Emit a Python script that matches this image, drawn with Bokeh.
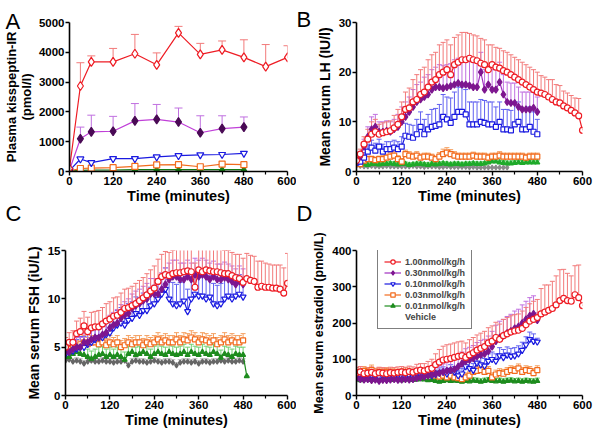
from bokeh.plotting import figure
from bokeh.models import Range1d, FixedTicker, Label, Legend, LegendItem, ColumnDataSource, GridBox
from bokeh.layouts import column, row
from bokeh.embed import file_html
from bokeh.resources import INLINE

# ---------------- data ----------------
LABELS = ["1.00nmol/kg/h", "0.30nmol/kg/h", "0.10nmol/kg/h", "0.03nmol/kg/h", "0.01nmol/kg/h", "Vehicle"]
PANEL_LETTERS = ["A", "B", "C", "D"]
X_TICKS = [0, 120, 240, 360, 480, 600]
X_MINOR = [60, 180, 300, 420, 540]

# Panel A: plasma kisspeptin-IR (pmol/l)
A_T_RED = [0, 30, 60, 120, 180, 240, 300, 360, 420, 480, 540, 600]
A_T = [0, 30, 60, 120, 180, 240, 300, 360, 420, 480]
A_RED = [100, 2870, 3680, 3680, 3950, 3580, 4650, 3930, 4080, 3830, 3520, 3830]
A_RED_ERR = [0, 780, 200, 450, 650, 400, 220, 370, 300, 590, 740, 390]
A_PURPLE = [50, 1100, 1330, 1350, 1700, 1750, 1660, 1300, 1440, 1490]
A_PURPLE_ERR = [0, 390, 560, 500, 580, 500, 470, 570, 430, 340]
A_BLUE = [30, 420, 300, 430, 430, 490, 530, 560, 570, 610]
A_ORANGE = [20, 100, 110, 130, 170, 220, 230, 160, 250, 230]
A_GREEN = [10, 40, 50, 50, 60, 60, 60, 60, 60, 60]
A_GREY = [5, 10, 10, 10, 10, 10, 10, 10, 10, 10]
A_YTICKS = [0, 1000, 2000, 3000, 4000, 5000]

# sampling times (minutes) for panels B-D
T600 = list(range(0, 601, 10))
T490 = list(range(0, 491, 10))
T480 = list(range(0, 481, 10))
T400 = list(range(0, 401, 10))

# Panel B: LH (IU/l)
B_RED = [2.2, 3.5, 5.5, 6.5, 7.5, 8.0, 7.5, 7.8, 8.0, 8.2, 8.8, 9.5, 11.0, 12.5, 12.8, 14.0, 14.5, 15.5, 16.0, 17.0,
         18.0, 18.5, 19.5, 20.0, 20.5, 19.5, 21.5, 22.0, 22.5, 22.5, 22.8, 22.5, 22.3, 21.8, 21.5, 20.5, 21.5, 21.0, 20.8, 20.3,
         20.0, 19.5, 19.0, 18.5, 18.0, 17.5, 17.0, 16.5, 16.0, 15.8, 15.5, 15.0, 14.5, 14.0, 13.8, 13.2, 12.8, 12.3, 11.8, 11.2, 8.3]
B_RED_ERR = [0.5, 1.0, 1.5, 2.0, 2.5, 2.5, 2.0, 2.0, 2.0, 2.0, 2.5, 3.0, 3.0, 3.5, 4.0, 4.5, 5.0, 5.0, 5.0, 5.5,
             5.5, 5.5, 6.0, 6.0, 6.0, 6.0, 5.5, 5.5, 5.5, 5.5, 5.0, 5.0, 5.0, 5.0, 5.0, 5.0, 4.0, 4.0, 4.0, 4.0,
             4.0, 4.0, 4.0, 4.0, 4.0, 4.0, 4.0, 4.0, 4.0, 3.5, 3.5, 3.5, 4.0, 3.5, 3.5, 3.0, 3.0, 3.0, 3.0, 3.5, 0.5]
B_PURPLE = [2.0, 3.0, 5.0, 7.0, 8.5, 9.0, 8.0, 8.0, 8.2, 8.0, 8.5, 9.0, 10.0, 11.0, 12.0, 13.0, 14.0, 14.5, 15.0, 15.5,
            16.5, 17.0, 17.0, 16.8, 17.0, 17.2, 17.5, 17.8, 17.5, 17.5, 17.3, 17.0, 17.0, 20.0, 16.5, 17.5, 16.5, 16.5, 18.0, 15.5,
            14.0, 13.8, 13.8, 13.0, 12.5, 12.5, 12.5, 12.8, 12.0]
B_PURPLE_ERR = [0.5, 1.0, 1.5, 2.0, 2.5, 2.5, 2.0, 2.0, 2.0, 2.0, 2.0, 2.5, 3.0, 3.0, 3.0, 3.5, 3.5, 3.5, 4.0, 4.0,
                4.0, 4.0, 4.5, 4.5, 4.5, 4.5, 5.0, 5.0, 5.0, 5.0, 5.0, 5.0, 5.0, 4.0, 4.0, 4.0, 4.0, 4.0, 4.0, 4.0,
                4.0, 4.0, 4.0, 4.0, 3.5, 3.5, 3.5, 3.5, 3.0]
B_BLUE = [1.8, 2.0, 2.8, 4.0, 4.8, 4.2, 5.0, 4.0, 4.5, 4.5, 4.8, 4.5, 5.0, 7.2, 7.0, 6.8, 7.5, 9.0, 7.5, 8.5,
          9.0, 9.2, 9.5, 11.0, 10.5, 9.8, 11.0, 12.0, 12.0, 11.5, 9.5, 9.5, 9.5, 10.0, 9.8, 9.5, 9.5, 9.0, 10.0, 8.5,
          8.5, 8.3, 9.5, 10.0, 8.5, 8.5, 9.0, 8.0, 7.5]
B_BLUE_ERR = [0.5, 0.8, 1.0, 1.5, 1.5, 1.5, 1.5, 1.5, 1.5, 1.5, 1.5, 1.5, 2.0, 2.5, 2.5, 2.5, 3.0, 3.0, 3.0, 3.0,
              3.5, 3.5, 4.0, 4.5, 4.5, 5.0, 5.0, 5.0, 5.0, 5.0, 4.5, 4.5, 4.5, 4.5, 4.5, 4.5, 4.5, 4.0, 4.0, 4.0,
              4.0, 4.0, 4.0, 4.0, 4.0, 4.0, 4.0, 4.0, 3.0]
B_ORANGE = [1.8, 1.5, 2.2, 2.5, 2.5, 2.3, 2.5, 2.5, 2.8, 3.0, 3.2, 2.5, 2.0, 3.5, 3.2, 3.0, 3.2, 2.8, 3.0, 3.0,
            2.8, 2.5, 3.0, 3.5, 3.8, 3.5, 3.2, 3.0, 3.0, 3.0, 3.0, 3.2, 3.0, 3.0, 3.0, 2.8, 3.0, 3.0, 3.2, 3.0,
            3.0, 3.0, 3.0, 3.0, 3.0, 2.8, 3.0, 3.0, 3.0]
B_ORANGE_ERR = [0.3, 0.4, 0.5, 0.6, 0.6, 0.6, 0.6, 0.7, 0.7, 0.8, 0.8, 0.7, 0.6, 0.8, 0.8, 0.7, 0.8, 0.7, 0.7, 0.7,
                0.7, 0.6, 0.8, 1.0, 1.0, 0.9, 0.8, 0.7, 0.7, 0.7, 0.7, 0.7, 0.7, 0.7, 0.7, 0.7, 0.7, 0.7, 0.8, 0.7,
                0.7, 0.7, 0.7, 0.7, 0.7, 0.7, 0.7, 0.7, 0.7]
B_GREEN = [1.5, 1.5, 1.4, 1.3, 1.5, 1.5, 1.4, 1.5, 1.5, 1.6, 1.5, 1.4, 1.5, 1.5, 1.3, 1.4, 1.5, 1.5, 1.4, 1.3,
           1.5, 1.4, 1.5, 1.6, 1.5, 1.4, 1.5, 1.5, 1.4, 1.5, 1.5, 1.6, 1.5, 1.5, 1.6, 1.8, 2.0, 2.0, 1.8, 1.7,
           1.6, 1.6, 1.7, 1.8, 1.7, 1.8, 1.8, 1.8, 1.8]
B_GREEN_ERR = [0.3, 0.3, 0.4, 0.4, 0.4, 0.4, 0.4, 0.4, 0.4, 0.4, 0.4, 0.4, 0.4, 0.4, 0.4, 0.4, 0.4, 0.4, 0.4, 0.4,
               0.4, 0.4, 0.4, 0.4, 0.4, 0.4, 0.4, 0.4, 0.4, 0.4, 0.4, 0.4, 0.4, 0.4, 0.4, 0.5, 0.5, 0.5, 0.5, 0.5,
               0.5, 0.5, 0.5, 0.5, 0.5, 0.5, 0.5, 0.5, 0.5]
B_GREY = [1.2, 1.1, 1.0, 1.0, 1.1, 1.0, 1.0, 1.0, 1.1, 1.0, 1.0, 1.0, 1.0, 1.0, 1.0, 1.1, 1.0, 1.0, 0.9, 1.0,
          1.0, 1.0, 0.9, 0.9, 1.0, 0.9, 0.9, 0.9, 0.9, 0.9, 0.8, 0.9, 0.8, 0.8, 0.8, 0.8, 0.8, 0.8, 0.8, 0.8, 0.8]

# Panel C: FSH (iU/L)
C_RED = [5.0, 5.5, 5.5, 6.4, 6.6, 7.2, 6.6, 7.0, 7.1, 7.1, 7.4, 7.7, 7.9, 8.2, 8.3, 8.6, 9.0, 9.1, 9.3, 9.5,
         9.8, 10.1, 10.4, 10.8, 11.1, 11.8, 12.3, 12.5, 12.4, 12.6, 12.7, 12.7, 12.8, 12.9, 12.8, 11.2, 13.0, 12.8, 13.0, 12.9,
         12.8, 12.8, 12.7, 12.6, 12.6, 12.4, 12.2, 12.1, 11.7, 12.1, 11.9, 11.8, 11.2, 11.3, 11.2, 11.2, 11.1, 11.1, 11.0, 10.6, 11.6]
C_RED_ERR = [1.0, 1.0, 1.2, 1.3, 1.4, 1.5, 1.5, 1.6, 1.6, 1.7, 1.7, 1.8, 1.8, 1.9, 1.9, 2.0, 2.0, 2.0, 2.0, 2.1,
             2.1, 2.1, 2.2, 2.2, 2.3, 2.3, 2.3, 2.4, 2.4, 2.4, 2.4, 2.4, 2.3, 2.3, 2.4, 2.5, 2.2, 2.3, 2.2, 2.3,
             2.3, 2.3, 2.4, 2.4, 2.4, 2.4, 2.4, 2.5, 2.5, 2.6, 2.6, 2.6, 2.7, 2.6, 2.5, 2.4, 2.4, 2.4, 2.5, 2.6, 3.1]
C_PURPLE = [4.5, 4.5, 4.8, 5.0, 5.0, 5.5, 5.5, 5.8, 6.0, 6.0, 6.3, 6.5, 7.0, 7.3, 7.5, 8.0, 8.3, 8.5, 9.0, 9.3,
            9.5, 9.8, 10.0, 10.5, 10.5, 10.5, 11.0, 11.5, 12.0, 12.3, 12.3, 12.0, 12.0, 12.3, 12.0, 12.5, 12.3, 12.5, 12.3, 12.0,
            12.3, 12.0, 12.0, 12.2, 12.0, 11.8, 11.5, 11.8, 11.5]
C_PURPLE_ERR = [0.8, 0.8, 0.9, 1.0, 1.0, 1.0, 1.1, 1.1, 1.2, 1.2, 1.2, 1.3, 1.3, 1.3, 1.4, 1.4, 1.4, 1.5, 1.5, 1.5,
                1.5, 1.5, 1.6, 1.6, 1.6, 1.6, 1.7, 1.7, 1.7, 1.7, 1.7, 1.7, 1.7, 1.7, 1.7, 1.7, 1.7, 1.7, 1.7, 1.7,
                1.6, 1.6, 1.6, 1.6, 1.6, 1.6, 1.6, 1.6, 1.6]
C_BLUE = [4.3, 4.5, 4.6, 4.8, 5.0, 5.0, 5.3, 5.5, 5.8, 6.0, 6.0, 6.3, 6.5, 7.0, 7.3, 7.5, 7.3, 7.8, 8.0, 8.5,
          8.3, 8.8, 8.8, 9.3, 9.5, 10.0, 10.5, 11.0, 10.0, 9.5, 9.3, 9.5, 9.8, 8.7, 10.0, 10.5, 10.3, 10.3, 10.0, 10.2,
          9.5, 9.3, 9.5, 10.0, 10.3, 10.0, 10.3, 10.5, 10.2]
C_BLUE_ERR = [0.8, 0.9, 1.0, 1.0, 1.1, 1.1, 1.2, 1.2, 1.3, 1.3, 1.4, 1.4, 1.5, 1.5, 1.5, 1.6, 1.6, 1.7, 1.7, 1.7,
              1.8, 1.8, 1.8, 1.9, 1.9, 2.0, 2.0, 2.2, 2.2, 2.2, 2.2, 2.2, 2.2, 2.3, 2.2, 2.2, 2.2, 2.2, 2.2, 2.2,
              2.1, 2.1, 2.1, 2.1, 2.0, 2.0, 2.0, 2.0, 2.0]
C_ORANGE = [4.6, 4.8, 5.0, 5.0, 5.3, 5.5, 5.3, 5.5, 5.5, 5.3, 5.5, 5.2, 5.5, 5.3, 5.5, 5.0, 5.2, 5.5, 5.3, 5.5,
            5.5, 5.2, 5.5, 5.3, 5.5, 5.8, 5.5, 5.7, 5.5, 5.5, 5.8, 5.5, 5.8, 5.7, 6.0, 5.8, 5.5, 5.8, 5.7, 5.5,
            5.7, 5.3, 5.5, 5.8, 5.5, 5.7, 5.5, 5.5, 5.7]
C_ORANGE_ERR = [0.6, 0.6, 0.6, 0.7, 0.7, 0.7, 0.7, 0.7, 0.7, 0.7, 0.7, 0.7, 0.7, 0.7, 0.7, 0.7, 0.7, 0.7, 0.7, 0.7,
                0.7, 0.7, 0.7, 0.7, 0.7, 0.7, 0.7, 0.7, 0.7, 0.7, 0.7, 0.7, 0.7, 0.7, 0.7, 0.7, 0.7, 0.7, 0.7, 0.7,
                0.7, 0.7, 0.7, 0.7, 0.7, 0.7, 0.7, 0.7, 0.7]
C_GREEN = [4.0, 4.0, 4.3, 4.5, 4.3, 4.2, 4.0, 3.8, 4.0, 4.2, 4.3, 4.0, 4.2, 4.0, 4.2, 4.0, 3.7, 4.3, 4.5, 4.2,
           4.3, 4.5, 4.3, 4.0, 4.3, 4.5, 4.3, 4.2, 4.5, 4.3, 4.2, 4.3, 4.5, 4.2, 4.5, 4.3, 4.2, 4.5, 4.3, 4.2,
           4.5, 4.3, 3.9, 4.3, 4.2, 4.0, 4.3, 4.2, 4.2, 2.0]
C_GREEN_ERR = [0.7, 0.7, 0.8, 0.8, 0.8, 0.8, 0.8, 0.8, 0.8, 0.8, 0.8, 0.8, 0.8, 0.8, 0.8, 0.8, 0.8, 0.8, 0.8, 0.8,
               0.8, 0.8, 0.8, 0.8, 0.8, 0.8, 0.8, 0.8, 0.8, 0.8, 0.8, 0.8, 0.8, 0.8, 0.8, 0.8, 0.8, 0.8, 0.8, 0.8,
               0.8, 0.8, 0.8, 0.8, 0.8, 0.8, 0.8, 0.8, 0.8, 0.0]
C_GREY = [3.6, 3.7, 3.5, 3.6, 3.5, 3.3, 3.5, 3.6, 3.5, 3.5, 3.6, 3.5, 3.5, 3.4, 3.5, 3.5, 3.6, 3.1, 3.5, 3.6,
          3.5, 3.5, 3.4, 3.5, 3.6, 3.5, 3.4, 3.5, 3.5, 3.4, 3.1, 3.4, 3.5, 3.5, 3.4, 3.5, 3.3, 3.5, 3.5, 3.4,
          3.5, 3.5, 3.6, 3.5, 3.6, 3.5, 3.5, 3.6, 3.5]
C_GREY_ERR = [0.3, 0.3, 0.3, 0.3, 0.3, 0.3, 0.3, 0.3, 0.3, 0.3, 0.3, 0.3, 0.3, 0.3, 0.3, 0.3, 0.3, 0.3, 0.3, 0.3,
              0.3, 0.3, 0.3, 0.3, 0.3, 0.3, 0.3, 0.3, 0.3, 0.3, 0.3, 0.3, 0.3, 0.3, 0.3, 0.3, 0.3, 0.3, 0.3, 0.3,
              0.3, 0.3, 0.3, 0.3, 0.3, 0.3, 0.3, 0.3, 0.3]

# Panel D: estradiol (pmol/L)
D_RED = [62, 65, 60, 62, 64, 60, 63, 62, 60, 63, 62, 64, 65, 63, 66, 64, 68, 70, 68, 72,
         75, 85, 92, 98, 100, 102, 105, 108, 110, 105, 112, 118, 125, 130, 135, 145, 150, 160, 155, 165,
         170, 175, 178, 180, 185, 195, 205, 210, 215, 225, 230, 235, 240, 250, 262, 268, 262, 260, 278, 270, 248]
D_RED_ERR = [15, 15, 15, 15, 15, 15, 15, 15, 15, 15, 15, 15, 15, 15, 15, 15, 18, 18, 20, 22,
             25, 30, 35, 38, 40, 40, 40, 40, 40, 40, 42, 42, 42, 42, 42, 42, 42, 42, 42, 45,
             45, 45, 45, 45, 48, 48, 48, 50, 50, 70, 75, 70, 75, 80, 85, 80, 75, 70, 80, 90, 0]
D_PURPLE = [48, 45, 44, 45, 42, 44, 40, 43, 42, 44, 45, 43, 44, 45, 44, 45, 48, 50, 52, 55,
            58, 60, 62, 65, 68, 70, 72, 80, 88, 95, 98, 102, 108, 112, 115, 122, 135, 150, 160, 165,
            172, 178, 185, 190, 200, 210, 220, 225, 208]
D_PURPLE_ERR = [10, 10, 10, 10, 10, 10, 10, 10, 10, 10, 10, 10, 10, 10, 10, 10, 12, 12, 14, 15,
                16, 18, 20, 22, 24, 26, 28, 30, 32, 34, 35, 36, 38, 40, 40, 42, 42, 44, 45, 45,
                46, 46, 48, 48, 50, 50, 50, 50, 20]
D_BLUE = [50, 55, 52, 50, 55, 52, 50, 53, 55, 52, 50, 55, 52, 50, 55, 52, 60, 55, 58, 60,
          55, 58, 62, 65, 60, 70, 65, 55, 60, 80, 75, 70, 90, 85, 82, 95, 100, 95, 110, 105,
          112, 108, 110, 115, 125, 140, 155, 150, 148]
D_BLUE_ERR = [10, 10, 10, 10, 10, 10, 10, 10, 10, 10, 10, 10, 10, 10, 10, 10, 12, 12, 12, 12,
              12, 12, 14, 14, 14, 15, 15, 15, 15, 18, 18, 18, 20, 20, 20, 20, 20, 20, 22, 22,
              22, 22, 22, 22, 22, 22, 20, 20, 10]
D_ORANGE = [65, 60, 68, 65, 70, 62, 65, 63, 65, 62, 64, 60, 62, 65, 63, 60, 62, 65, 60, 58,
            60, 55, 52, 55, 50, 55, 50, 48, 45, 50, 55, 65, 68, 70, 65, 68, 50, 58, 62, 60,
            65, 70, 68, 75, 65, 70, 68, 62, 70]
D_ORANGE_ERR = [12, 12, 12, 12, 14, 12, 12, 12, 12, 12, 12, 12, 12, 12, 12, 12, 12, 12, 12, 12,
                12, 12, 12, 12, 12, 12, 12, 12, 12, 12, 12, 12, 12, 12, 12, 12, 12, 12, 12, 12,
                12, 12, 12, 12, 12, 12, 12, 12, 12]
D_GREEN = [45, 42, 44, 45, 43, 44, 42, 45, 44, 43, 45, 44, 42, 44, 45, 43, 44, 45, 44, 42,
           43, 40, 38, 40, 42, 40, 41, 40, 38, 40, 39, 41, 40, 38, 40, 42, 40, 39, 40, 38,
           40, 41, 39, 40, 38, 40, 39, 38, 40]
D_GREEN_ERR = [8, 8, 8, 8, 8, 8, 8, 8, 8, 8, 8, 8, 8, 8, 8, 8, 8, 8, 8, 8,
               8, 8, 8, 8, 8, 8, 8, 8, 8, 8, 8, 8, 8, 8, 8, 8, 8, 8, 8, 8,
               8, 8, 8, 8, 8, 8, 8, 8, 8]

# ---------------- styles ----------------
RED, RED_E = "#EE1C24", "#F27A7A"
PURPLE, PURPLE_L, PURPLE_E = "#7D168F", "#A030C0", "#C070E0"
BLUE, BLUE_E = "#1A1AE0", "#6060F0"
ORANGE, ORANGE_E = "#F26B1D", "#F5A060"
GREEN, GREEN_E = "#1FAA2A", "#70D070"
GREY, GREY_E = "#8A8A8A", "#B8B8B8"
DGREY = "#666666"
FONT = "Liberation Sans"

W_L, W_R = 296, 297
H_T, H_B = 214, 221


def make_fig(w, h, l, r, t, b, ymax, yticks, ylabel, ylabel_size="14px"):
    p = figure(width=w, height=h, min_border_left=l, min_border_right=r,
               min_border_top=t, min_border_bottom=b,
               x_range=Range1d(0, 600), y_range=Range1d(0, ymax),
               output_backend="svg", toolbar_location=None)
    p.xgrid.visible = False
    p.ygrid.visible = False
    p.outline_line_color = None
    p.background_fill_color = "white"
    p.border_fill_color = "white"
    p.xaxis.ticker = FixedTicker(ticks=X_TICKS, minor_ticks=X_MINOR)
    p.yaxis.ticker = FixedTicker(ticks=yticks, minor_ticks=[])
    for ax in (p.xaxis, p.yaxis):
        ax.axis_line_width = 1.6
        ax.axis_line_color = "black"
        ax.major_tick_line_width = 1.4
        ax.minor_tick_line_width = 1.2
        ax.major_tick_in = 0
        ax.major_tick_out = 4
        ax.minor_tick_in = 0
        ax.minor_tick_out = 3
        ax.major_label_text_font = FONT
        ax.major_label_text_font_style = "bold"
        ax.major_label_text_font_size = "11.5px"
        ax.major_label_text_color = "black"
        ax.axis_label_text_font = FONT
        ax.axis_label_text_font_style = "bold"
        ax.axis_label_text_color = "black"
    p.xaxis.major_label_standoff = 1
    p.xaxis.axis_label = "Time (minutes)"
    p.xaxis.axis_label_text_font_size = "14.5px"
    p.xaxis.axis_label_standoff = 0
    p.yaxis.major_label_standoff = 1
    p.yaxis.axis_label = ylabel
    p.yaxis.axis_label_text_font_size = ylabel_size
    p.yaxis.axis_label_standoff = 3
    return p


def errbars(p, t, y, err, ecolor, cap):
    if err is None:
        return
    src = ColumnDataSource(dict(x=t, y=y, top=[a + b for a, b in zip(y, err)]))
    p.segment(x0="x", y0="y", x1="x", y1="top", source=src, line_color=ecolor, line_width=1)
    p.scatter(x="x", y="top", marker="dash", size=cap, line_color=ecolor, line_width=1, source=src)


def series(p, t, y, color, marker, fill, size, line_color=None):
    src = ColumnDataSource(dict(x=t, y=y))
    r1 = p.line(x="x", y="y", source=src, line_color=line_color or color, line_width=1.2)
    r2 = p.scatter(x="x", y="y", source=src, marker=marker, size=size,
                   line_color=color, fill_color=fill, line_width=1.2)
    return [r1, r2]


# ---------------- Panel A ----------------
pA = make_fig(W_L, H_T, 65, 9, 22, 43, 5000, A_YTICKS, "Plasma kisspeptin-IR\n(pmol/l)", "13px")
pA.yaxis.axis_label_text_line_height = 1.0
pA.yaxis.axis_label_standoff = 2
errbars(pA, A_T_RED, A_RED, A_RED_ERR, RED_E, 8)
errbars(pA, A_T, A_PURPLE, A_PURPLE_ERR, PURPLE_E, 8)
series(pA, A_T, A_GREY, GREY, "diamond", GREY, 6)
series(pA, A_T, A_GREEN, "#157A15", "triangle", "#157A15", 6)
series(pA, A_T, A_ORANGE, ORANGE, "square", "white", 6)
series(pA, A_T, A_BLUE, BLUE, "inverted_triangle", "white", 7)
series(pA, A_T, A_PURPLE, "#4A0A55", "diamond", "#4A0A55", 9, line_color="#C040D8")
series(pA, A_T_RED, A_RED, RED, "diamond", "white", 9)

# ---------------- Panel B ----------------
pB = make_fig(W_R, H_T, 60, 11, 22, 43, 30, [0, 10, 20, 30], "Mean serum LH (IU/l)")
errbars(pB, T480, B_GREEN, B_GREEN_ERR, GREEN_E, 5)
errbars(pB, T480, B_ORANGE, B_ORANGE_ERR, ORANGE_E, 5)
errbars(pB, T480, B_BLUE, B_BLUE_ERR, BLUE_E, 5)
errbars(pB, T480, B_PURPLE, B_PURPLE_ERR, PURPLE_E, 5)
errbars(pB, T600, B_RED, B_RED_ERR, RED_E, 5)
series(pB, T400, B_GREY, GREY, "diamond", GREY, 5)
series(pB, T480, B_GREEN, GREEN, "triangle", GREEN, 5)
series(pB, T480, B_ORANGE, ORANGE, "square", "white", 5)
series(pB, T480, B_BLUE, BLUE, "square", "white", 5)
series(pB, T480, B_PURPLE, PURPLE, "diamond", PURPLE, 7, line_color=PURPLE_L)
series(pB, T600, B_RED, RED, "circle", "white", 6)

# ---------------- Panel C ----------------
pC = make_fig(W_L, H_B, 65, 9, 36, 40, 15, [0, 5, 10, 15], "Mean serum FSH (iU/L)")
errbars(pC, T480, C_GREY, C_GREY_ERR, GREY_E, 5)
errbars(pC, T490, C_GREEN, C_GREEN_ERR, GREEN_E, 5)
errbars(pC, T480, C_ORANGE, C_ORANGE_ERR, ORANGE_E, 5)
errbars(pC, T480, C_BLUE, C_BLUE_ERR, BLUE_E, 5)
errbars(pC, T480, C_PURPLE, C_PURPLE_ERR, PURPLE_E, 5)
errbars(pC, T600, C_RED, C_RED_ERR, RED_E, 5)
series(pC, T480, C_GREY, DGREY, "diamond", DGREY, 5)
series(pC, T490, C_GREEN, "#1E8C1E", "triangle", "#1E8C1E", 5)
series(pC, T480, C_ORANGE, ORANGE, "square", "white", 5)
series(pC, T480, C_BLUE, BLUE, "inverted_triangle", "white", 6)
series(pC, T480, C_PURPLE, PURPLE, "diamond", PURPLE, 7, line_color=PURPLE_L)
series(pC, T600, C_RED, RED, "circle", "white", 6)

# ---------------- Panel D ----------------
pD = make_fig(W_R, H_B, 60, 11, 36, 40, 400, [0, 100, 200, 300, 400], "Mean serum estradiol (pmol/L)", "12.5px")
errbars(pD, T480, D_GREEN, D_GREEN_ERR, GREEN_E, 5)
errbars(pD, T480, D_ORANGE, D_ORANGE_ERR, ORANGE_E, 5)
errbars(pD, T480, D_BLUE, D_BLUE_ERR, BLUE_E, 5)
errbars(pD, T480, D_PURPLE, D_PURPLE_ERR, PURPLE_E, 5)
errbars(pD, T600, D_RED, D_RED_ERR, RED_E, 5)
r_grey = series(pD, [], [], DGREY, "diamond", DGREY, 5)
r_green = series(pD, T480, D_GREEN, "#1E8C1E", "triangle", "#1E8C1E", 5)
r_orange = series(pD, T480, D_ORANGE, ORANGE, "square", "white", 5)
r_blue = series(pD, T480, D_BLUE, BLUE, "inverted_triangle", "white", 6)
r_purple = series(pD, T480, D_PURPLE, PURPLE, "diamond", PURPLE, 7, line_color=PURPLE_L)
r_red = series(pD, T600, D_RED, RED, "circle", "white", 6)

D_FRAME_H = H_B - 36 - 40
legend = Legend(items=[LegendItem(label=lab, renderers=rs) for lab, rs in
                       zip(LABELS, [r_red, r_purple, r_blue, r_orange, r_green, r_grey])],
                location=(21, D_FRAME_H - 79), orientation="vertical")
legend.border_line_color = "black"
legend.border_line_width = 1.5
legend.background_fill_color = "white"
legend.background_fill_alpha = 1
legend.label_text_font = FONT
legend.label_text_font_style = "bold"
legend.label_text_font_size = "9px"
legend.label_height = 11
legend.glyph_height = 11
legend.glyph_width = 17
legend.spacing = 0
legend.padding = 6
legend.margin = 0
legend.label_standoff = 4
pD.add_layout(legend, "center")

# ---------------- overlay for panel letters ----------------
pL = figure(width=W_L + W_R, height=H_T + H_B, min_border=0,
            x_range=Range1d(0, W_L + W_R), y_range=Range1d(H_T + H_B, 0),
            output_backend="svg", toolbar_location=None)
pL.axis.visible = False
pL.xgrid.visible = False
pL.ygrid.visible = False
pL.outline_line_color = None
pL.background_fill_color = None
pL.border_fill_color = None
for txt, (lx, ly) in zip(PANEL_LETTERS, [(5, 21), (296, 19), (5, 213), (296, 213)]):
    pL.add_layout(Label(x=lx, y=ly, text=txt, text_font=FONT, text_font_size="22px",
                        text_baseline="alphabetic", text_align="left", text_color="black"))

panels = column(row(pA, pB), row(pC, pD))
layout = GridBox(children=[(panels, 0, 0), (pL, 0, 0)])
open("out.html", "w").write(file_html(layout, INLINE))
